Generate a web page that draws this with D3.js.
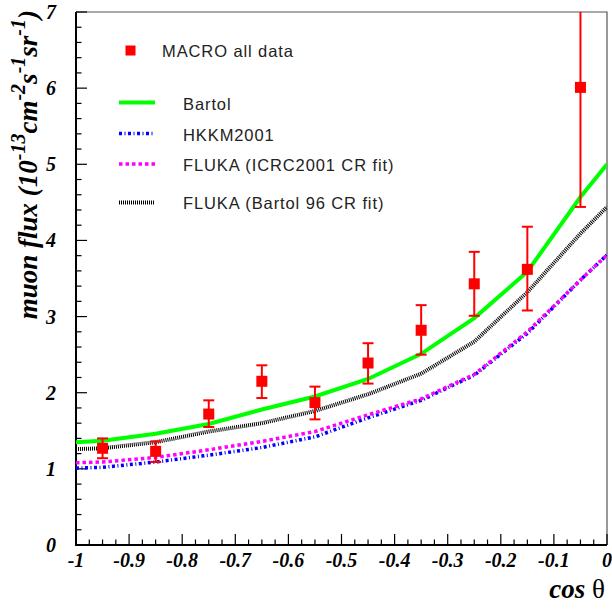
<!DOCTYPE html>
<html><head><meta charset="utf-8">
<script src="https://cdn.jsdelivr.net/npm/d3@7"></script>
<style>body{margin:0;background:#fff}svg{display:block}</style>
</head><body>
<svg id="c" width="612" height="612"></svg>
<script>
// ---- data ----
const dataX   = [-0.95,-0.85,-0.75,-0.65,-0.55,-0.45,-0.35,-0.25,-0.15,-0.05];
const dataY   = [1.27, 1.23, 1.72, 2.15, 1.87, 2.39, 2.82, 3.43, 3.62, 6.01];
const dataLo  = [1.14, 1.09, 1.55, 1.93, 1.65, 2.12, 2.50, 3.01, 3.08, 4.44];
const dataHi  = [1.40, 1.36, 1.90, 2.36, 2.08, 2.65, 3.15, 3.85, 4.18, 7.60];
const curveX  = [-1, -0.95,-0.85,-0.75,-0.65,-0.55,-0.45,-0.35,-0.25,-0.15,-0.05, 0];
const bartol  = [1.35, 1.37, 1.46, 1.59, 1.78, 1.95, 2.18, 2.51, 2.98, 3.59, 4.57, 5.00];
const hkkm    = [1.01, 1.02, 1.09, 1.18, 1.28, 1.42, 1.67, 1.90, 2.23, 2.78, 3.48, 3.81];
const flukaIC = [1.08, 1.09, 1.15, 1.25, 1.36, 1.49, 1.71, 1.92, 2.24, 2.80, 3.48, 3.81];
const flukaB  = [1.26, 1.27, 1.35, 1.49, 1.60, 1.76, 1.98, 2.25, 2.67, 3.32, 4.09, 4.44];
const xTicks  = [-1,-0.9,-0.8,-0.7,-0.6,-0.5,-0.4,-0.3,-0.2,-0.1,0];
const xTickLabels = ["-1","-0.9","-0.8","-0.7","-0.6","-0.5","-0.4","-0.3","-0.2","-0.1","0"];
const yTicks  = [0,1,2,3,4,5,6,7];
const legendLabels = ["MACRO all data","Bartol","HKKM2001","FLUKA (ICRC2001 CR fit)","FLUKA (Bartol 96 CR fit)"];

// ---- layout ----
const L = 76, R = 607, T = 12, B = 545;
const svg = d3.select("#c");
const x = d3.scaleLinear().domain([-1, 0]).range([L, R]);
const y = d3.scaleLinear().domain([0, 7]).range([B, T]);

const defs = svg.append("defs");
defs.append("clipPath").attr("id","clip").append("rect")
  .attr("x", L).attr("y", T).attr("width", R - L).attr("height", B - T);

// frame top/right
svg.append("path").attr("d", `M${L},${T}H${R}V${B}`).attr("fill","none")
  .attr("stroke","#555").attr("stroke-width",1.2);

// ticks (inside)
const g = svg.append("g");
const minorX = d3.range(0, 41).map(i => -1 + i * 0.025);
minorX.forEach(v => {
  const major = Math.abs(Math.round(v * 10) - v * 10) < 1e-6;
  g.append("line").attr("x1", x(v)).attr("x2", x(v))
    .attr("y1", B).attr("y2", B - (major ? 11 : 5.5))
    .attr("stroke","#000").attr("stroke-width",1.2);
});
const minorY = d3.range(0, 36).map(i => i * 0.2);
minorY.forEach(v => {
  const major = Math.abs(Math.round(v) - v) < 1e-6;
  g.append("line").attr("y1", y(v)).attr("y2", y(v))
    .attr("x1", L).attr("x2", L + (major ? 11 : 5.5))
    .attr("stroke","#000").attr("stroke-width",1.2);
});
// left/bottom axis lines
svg.append("path").attr("d", `M${L},${T}V${B}H${R}`).attr("fill","none")
  .attr("stroke","#000").attr("stroke-width",2);

// tick labels
const tickFont = "'Liberation Serif','Times New Roman',serif";
svg.append("g").selectAll("text").data(xTicks).join("text")
  .attr("x", d => x(d)).attr("y", 567)
  .attr("text-anchor","middle")
  .attr("font-family", tickFont).attr("font-weight","bold").attr("font-style","italic")
  .attr("font-size", 20)
  .text((d,i) => xTickLabels[i]);
svg.append("g").selectAll("text").data(yTicks).join("text")
  .attr("x", 56).attr("y", d => y(d) + 7)
  .attr("text-anchor","end")
  .attr("font-family", tickFont).attr("font-weight","bold").attr("font-style","italic")
  .attr("font-size", 20)
  .text(d => d);

// axis titles
const xt = svg.append("text").attr("x", 605).attr("y", 598).attr("text-anchor","end")
  .attr("font-family", tickFont).attr("font-size", 27);
xt.append("tspan").attr("font-weight","bold").attr("font-style","italic").text("cos ");
xt.append("tspan").text("θ");

const yt = svg.append("text").attr("transform","translate(37,10) rotate(-90)")
  .attr("text-anchor","end")
  .attr("font-family", tickFont).attr("font-weight","bold").attr("font-style","italic")
  .attr("font-size", 27);
const parts = [["muon flux (10",0],["-13",1],["cm",0],["-2",1],["s",0],["-1",1],["sr",0],["-1",1],[")",0]];
let sup = false;
parts.forEach(([t, s]) => {
  const ts = yt.append("tspan").text(t);
  if (s && !sup) { ts.attr("dy", -12).attr("font-size", 20); sup = true; }
  else if (s) { ts.attr("font-size", 20); }
  else if (!s && sup) { ts.attr("dy", 12); sup = false; }
});

// curves
const line = d3.line().x(d => x(d[0])).y(d => y(d[1]));
const plot = svg.append("g").attr("clip-path","url(#clip)");
const curves = [
  {vals: bartol,  color:"#00ff00", w:4,   dash:null},
  {vals: flukaB,  color:"#000000", w:4,   dash:"1,1"},
  {vals: hkkm,    color:"#0000ff", w:3.5, dash:"3,2.5,1,2.5"},
  {vals: flukaIC, color:"#ff00ff", w:3.5, dash:"3.5,3"}
];
curves.forEach(c => {
  plot.append("path").datum(curveX.map((v,i) => [v, c.vals[i]]))
    .attr("d", line).attr("fill","none").attr("stroke", c.color)
    .attr("stroke-width", c.w).attr("stroke-dasharray", c.dash);
});

// data points with error bars
const pts = plot.append("g");
dataX.forEach((v,i) => {
  const cx = x(v);
  pts.append("line").attr("x1",cx).attr("x2",cx).attr("y1",y(dataLo[i])).attr("y2",y(dataHi[i]))
    .attr("stroke","#ff0000").attr("stroke-width",2);
  [dataLo[i], dataHi[i]].forEach(e => {
    pts.append("line").attr("x1",cx-5.5).attr("x2",cx+5.5).attr("y1",y(e)).attr("y2",y(e))
      .attr("stroke","#ff0000").attr("stroke-width",2);
  });
  pts.append("rect").attr("x",cx-5.5).attr("y",y(dataY[i])-5.5).attr("width",11).attr("height",11)
    .attr("fill","#ff0000");
});

// legend
const legFont = "'Liberation Sans',Arial,sans-serif";
const lg = svg.append("g");
lg.append("rect").attr("x",125.5).attr("y",45.5).attr("width",10).attr("height",10).attr("fill","#ff0000");
lg.append("text").attr("x",162).attr("y",57).text(legendLabels[0]);
const legLines = [
  {y:102.5, ty:110, c:curves[0], label:legendLabels[1]},
  {y:133.5, ty:141, c:curves[2], label:legendLabels[2]},
  {y:164,   ty:171, c:curves[3], label:legendLabels[3]},
  {y:202.5, ty:209, c:curves[1], label:legendLabels[4]}
];
legLines.forEach(l => {
  lg.append("line").attr("x1",119).attr("x2",155).attr("y1",l.y).attr("y2",l.y)
    .attr("stroke",l.c.color).attr("stroke-width", l.c.w).attr("stroke-dasharray", l.c.dash);
  lg.append("text").attr("x",183).attr("y",l.ty).text(l.label);
});
lg.selectAll("text").attr("font-family",legFont).attr("font-size",16.5)
  .attr("letter-spacing", 0.9).attr("fill","#222");
</script>
</body></html>
